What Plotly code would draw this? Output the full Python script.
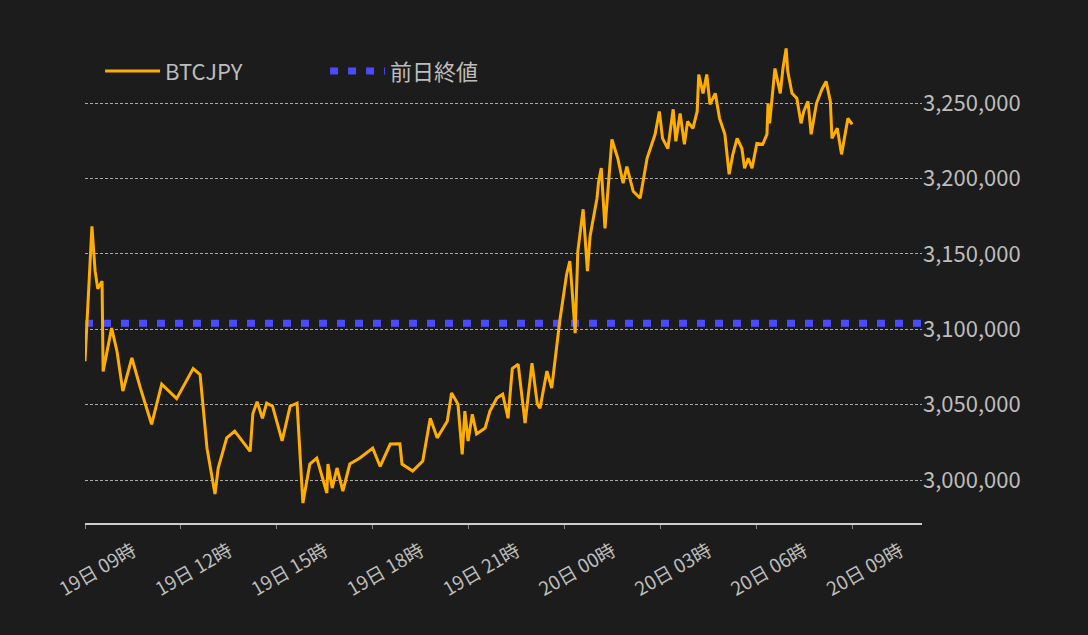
import pandas as pd
import plotly.graph_objects as go

# BTCJPY 価格（目視で読み取り）: 19日 09:00 からの経過分と価格
start = pd.Timestamp("2023-03-19 09:00")
minutes = [
    0, 13, 19, 24, 32, 34, 50, 60, 71, 88, 104, 125, 144, 172, 203, 216, 229, 244, 250, 266,
    281, 310, 315, 323, 333, 341, 352, 370, 385, 398, 404, 409, 422, 435, 454, 456, 464, 473, 484, 497,
    516, 540, 554, 573, 591, 595, 615, 634, 648, 661, 680, 688, 700, 708, 713, 719, 727, 735, 751, 760,
    773, 784, 794, 802, 813, 826, 839, 849, 854, 867, 876, 883, 891, 904, 910, 914, 920, 925, 935, 943,
    948, 961, 964, 969, 976, 989, 1000, 1010, 1017, 1029, 1042, 1055, 1070, 1078, 1084, 1094, 1104, 1109, 1117, 1125,
    1131, 1141, 1149, 1152, 1160, 1167, 1173, 1183, 1191, 1201, 1209, 1216, 1224, 1233, 1238, 1245, 1252, 1261, 1272, 1280,
    1282, 1285, 1295, 1305, 1310, 1316, 1319, 1327, 1336, 1344, 1349, 1357, 1363, 1373, 1383, 1391, 1399, 1402, 1412, 1420,
    1427, 1432, 1440,
]
prices = [
    3078900, 3168400, 3138600, 3127000, 3132000,
    3072000, 3100800, 3085500, 3059000, 3081000,
    3061000, 3037000, 3063600, 3054000, 3074000,
    3070000, 3021000, 2990700, 3008000, 3028000,
    3032500, 3019000, 3044000, 3052000, 3041000,
    3051000, 3049000, 3026000, 3049000, 3051000,
    3014600, 2984700, 3010600, 3014600, 2991400,
    3010600, 2994700, 3008000, 2992700, 3010600,
    3014600, 3021200, 3009000, 3023900, 3024000,
    3010600, 3006000, 3012600, 3041000, 3028000,
    3039000, 3057700, 3050400, 3017000, 3045700,
    3025900, 3043700, 3030500, 3034500, 3045700,
    3054400, 3057000, 3041000, 3074000, 3076900,
    3037800, 3077600, 3050400, 3047700, 3072300,
    3061000, 3082000, 3105400, 3136600, 3145200,
    3127300, 3097500, 3151800, 3179700, 3138600,
    3161800, 3187000, 3198000, 3207000, 3167000,
    3226000, 3213500, 3197000, 3208000, 3191600,
    3187000, 3213500, 3229400, 3244600, 3226700,
    3220000, 3246000, 3224800, 3243300, 3222800,
    3238000, 3233400, 3244600, 3269100, 3256600,
    3269100, 3249300, 3256600, 3240000, 3229400,
    3202900, 3216100, 3226700, 3220000, 3206900,
    3213500, 3206900, 3223400, 3222800, 3229400,
    3250000, 3236700, 3273100, 3256600, 3273100,
    3286400, 3271200, 3256600, 3253300, 3236700,
    3244600, 3251300, 3229400, 3250000, 3259200,
    3264500, 3251300, 3226700, 3233400, 3216100,
    3230100, 3240000, 3236000,
]
prev_close = 3104000
x_range_min = [0, 1571]
y_range = [2971500, 3290000]
y_ticks = [3000000, 3050000, 3100000, 3150000, 3200000, 3250000]

times = [start + pd.Timedelta(minutes=m) for m in minutes]
x_range = [start + pd.Timedelta(minutes=m) for m in x_range_min]

bg = "#1c1c1c"
fig = go.Figure()
fig.add_trace(go.Scatter(
    x=x_range, y=[prev_close, prev_close], mode="lines", name="前日終値",
    line=dict(color="#4a4aff", width=7, dash="8px,10px"),
))
fig.add_trace(go.Scatter(
    x=times, y=prices, mode="lines", name="BTCJPY",
    line=dict(color="#ffae00", width=3),
))

fig.update_layout(
    width=1088, height=635,
    paper_bgcolor=bg, plot_bgcolor=bg,
    margin=dict(l=85, r=166, t=43, b=112),
    font=dict(family="Noto Sans CJK JP", color="#bdbdbd", size=20),
    showlegend=True,
    legend=dict(orientation="h", x=0.018, y=0.985, yanchor="top", xanchor="left",
                traceorder="reversed", font=dict(size=22), bgcolor="rgba(0,0,0,0)",
                entrywidth=155, itemwidth=55),
    xaxis=dict(range=x_range, type="date", dtick=3 * 3600 * 1000, tick0=start,
               tickformat="%d日 %H時", tickangle=-30, tickfont=dict(size=19),
               ticklabelshift=48, ticklabelstandoff=4,
               showgrid=False, showline=True, linecolor="#cccccc", linewidth=1.5,
               ticks="outside", ticklen=4, tickcolor="#888888", zeroline=False),
    yaxis=dict(range=y_range, side="right", tickvals=y_ticks, tickformat=",d",
               showgrid=True, gridcolor="#aaaaaa", griddash="3px,2px", gridwidth=0.7,
               ticks="", zeroline=False, tickfont=dict(size=22)),
)

fig.write_html("out.html", config={"displayModeBar": False},
               post_script="document.body.style.margin='0';")
